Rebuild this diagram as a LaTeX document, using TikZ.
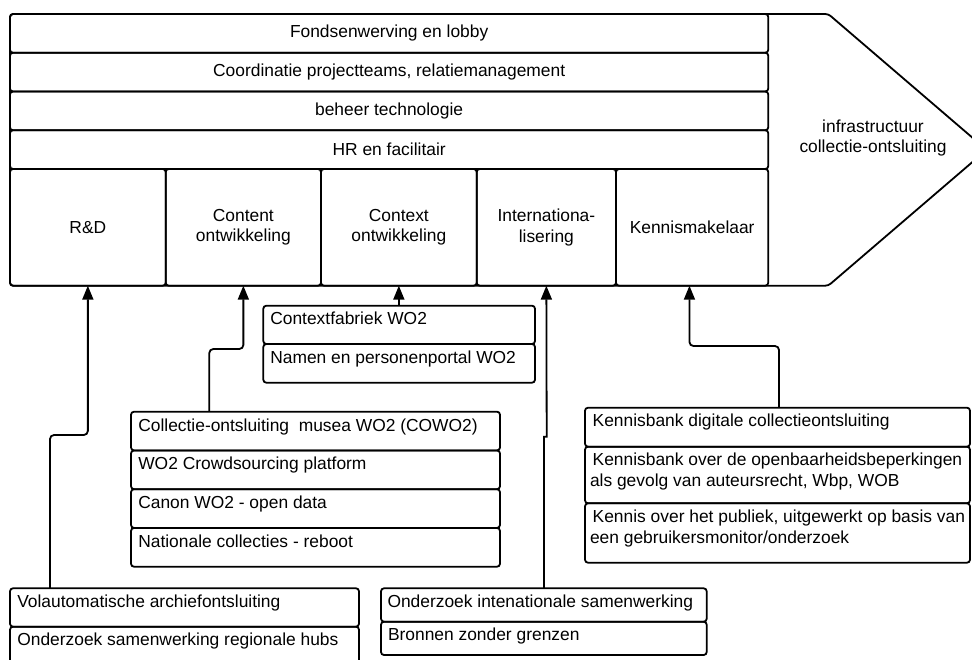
\documentclass[tikz,border=0pt]{standalone}
\usepackage{fontspec}
\setmainfont{Liberation Sans}
\usetikzlibrary{arrows.meta}
\begin{document}
\begin{tikzpicture}[x=1pt,y=-1pt,
  every node/.style={font=\fontsize{17.4}{20.7}\selectfont},
  box/.style={draw, line width=1.8pt, rounded corners=3pt, anchor=north west, inner sep=0pt, outer sep=0pt},
  band/.style={box, minimum width=758.3pt, minimum height=38.75pt},
  col/.style={box, minimum height=116.7pt, align=center},
  txt/.style={anchor=base west, inner sep=0pt, outer sep=0pt, align=left},
  conn/.style={line width=1.8pt, rounded corners=4pt, -{Triangle[length=14pt,width=11pt]}}]
\fill[white] (0,0) rectangle (972,659);
\clip (0,0) rectangle (972,659);
% big arrow shape
\draw[line width=1.8pt, rounded corners=3pt] (10,14) -- (828.3,14) -- (986.6,149.85) -- (828.3,285.7) -- (10,285.7) -- cycle;
\node[align=center] (inf) at (873,138) {infrastructuur\\collectie-ontsluiting};
% bands
\node[band] (f1) at (10,14) {Fondsenwerving en lobby};
\node[band] (f2) at (10,52.75) {Coordinatie projectteams, relatiemanagement};
\node[band] (f3) at (10,91.5) {beheer technologie};
\node[band] (f4) at (10,130.25) {HR en facilitair};
% columns
\node[col, minimum width=155.7pt] (c1) at (10,169) {R\&D};
\node[col, minimum width=155.3pt] (c2) at (165.7,169) {Content\\ontwikkeling};
\node[col, minimum width=155.7pt] (c3) at (321,169) {Context\\ontwikkeling};
\node[col, minimum width=139.3pt] (c4) at (476.7,169) {Internationa-\\lisering};
\node[col, minimum width=152.3pt] (c5) at (616,169) {Kennismakelaar};
% context boxes
\node[box, minimum width=271.7pt, minimum height=38.3pt] (k1) at (263.3,305.7) {};
\node[box, minimum width=271.7pt, minimum height=38.7pt] (k2) at (263.3,344) {};
\node[txt] (k1t) at ([shift={(7pt,-19pt)}]k1.north west) {Contextfabriek WO2};
\node[txt] (k2t) at ([shift={(7pt,-19pt)}]k2.north west) {Namen en personenportal WO2};
% content boxes
\node[box, minimum width=369pt, minimum height=38.75pt] (p1) at (131,411.7) {};
\node[box, minimum width=369pt, minimum height=38.75pt] (p2) at (131,450.45) {};
\node[box, minimum width=369pt, minimum height=38.75pt] (p3) at (131,489.2) {};
\node[box, minimum width=369pt, minimum height=38.75pt] (p4) at (131,527.95) {};
\node[txt] (p1t) at ([shift={(7.3pt,-19.3pt)}]p1.north west) {Collectie-ontsluiting\ \ musea WO2 (COWO2)};
\node[txt] (p2t) at ([shift={(7.3pt,-19.3pt)}]p2.north west) {WO2 Crowdsourcing platform};
\node[txt] (p3t) at ([shift={(7.3pt,-19.3pt)}]p3.north west) {Canon WO2 - open data};
\node[txt] (p4t) at ([shift={(7.3pt,-19.3pt)}]p4.north west) {Nationale collecties - reboot};
% R&D boxes
\node[box, minimum width=349pt, minimum height=38.4pt] (v1) at (10,588.3) {};
\node[box, minimum width=349pt, minimum height=38.4pt] (v2) at (10,626.7) {};
\node[txt] (v1t) at ([shift={(7.3pt,-19pt)}]v1.north west) {Volautomatische archiefontsluiting};
\node[txt] (v2t) at ([shift={(7.3pt,-19pt)}]v2.north west) {Onderzoek samenwerking regionale hubs};
% international boxes
\node[box, minimum width=325.7pt, minimum height=33.4pt] (o1) at (381,588.3) {};
\node[box, minimum width=325.7pt, minimum height=33.3pt] (o2) at (381,621.7) {};
\node[txt] (o1t) at ([shift={(6.5pt,-19pt)}]o1.north west) {Onderzoek intenationale samenwerking};
\node[txt] (o2t) at ([shift={(7pt,-19pt)}]o2.north west) {Bronnen zonder grenzen};
% kennis boxes
\node[box, minimum width=385pt, minimum height=39pt] (kb1) at (585,407.7) {};
\node[box, minimum width=385pt, minimum height=56.6pt] (kb2) at (585,446.7) {};
\node[box, minimum width=385pt, minimum height=59.4pt] (kb3) at (585,503.3) {};
\node[txt] (kb1t) at ([shift={(7.7pt,-19.2pt)}]kb1.north west) {Kennisbank digitale collectieontsluiting};
\node[txt] (kb2t) at ([shift={(5pt,-39.9pt)}]kb2.north west) {\hspace*{2.7pt}Kennisbank over de openbaarheidsbeperkingen\\als gevolg van auteursrecht, Wbp, WOB};
\node[txt] (kb3t) at ([shift={(5pt,-39.9pt)}]kb3.north west) {\hspace*{2.7pt}Kennis over het publiek, uitgewerkt op basis van\\een gebruikersmonitor/onderzoek};
% connectors
\draw[conn] ([xshift=40pt]v1.north west) -- ++(0,-153.3) -| (c1.south);
\draw[conn] ([xshift=78.3pt]p1.north west) -- ++(0,-62.7) -| (c2.south);
\draw[conn] (c3.south |- k1.north) -- (c3.south);
\draw[conn, sharp corners] ([xshift=163pt]o1.north west) -- ++(0,-151.6) -- ++(2.7,0) -- (c4.south);
\draw[conn] ([xshift=194pt]kb1.north west) -- ++(0,-61.7) -| ([xshift=-2.7pt]c5.south);
\end{tikzpicture}
\end{document}
